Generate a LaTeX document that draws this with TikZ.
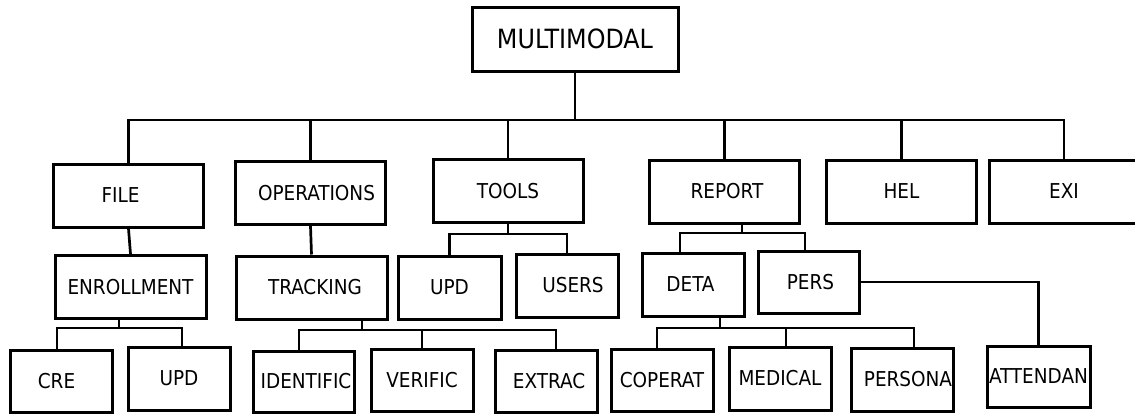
\documentclass[tikz,border=0pt]{standalone}
\usepackage{fontspec}
\setmainfont{DejaVu Sans Condensed}
\begin{document}
\begin{tikzpicture}[x=1pt,y=-1pt,
  box/.style={draw, line width=3pt, inner sep=0pt, font=\fontsize{20.5}{23}\selectfont},
  wide/.style={box, minimum width=150pt, minimum height=63pt},
  narrow/.style={box, minimum width=102pt, minimum height=62pt},
  link/.style={line width=2.7pt}]
\useasboundingbox (0,0) rectangle (1135,413);
\clip (0,0) rectangle (1135,413);
% root
\node[box, minimum width=206pt, minimum height=64pt, font=\fontsize{26.5}{30}\selectfont] (root) at (575,39) {MULTIMODAL};
% level 1
\node[wide] (file)   at (128.5,195.5) {\hspace*{-16pt}FILE};
\node[wide] (ops)    at (310.5,193)   {\hspace*{12pt}OPERATIONS};
\node[wide] (tools)  at (508,191)     {TOOLS};
\node[wide] (report) at (724.5,191.5) {\hspace*{5pt}REPORT};
\node[wide] (hel)    at (901.5,191.5) {HEL};
\node[wide] (exi)    at (1064,191.5)  {EXI};
% level 2
\node[wide, minimum width=151pt] (enroll) at (130.5,287) {ENROLLMENT};
\node[wide, minimum width=151pt] (track)  at (311.5,287.5) {\hspace*{7pt}TRACKING};
\node[narrow, minimum width=103pt, minimum height=63pt] (upd2) at (449.5,287.5) {UPD};
\node[narrow, minimum height=63pt] (users) at (567,285.5) {\hspace*{12pt}USERS};
\node[narrow, minimum height=63pt] (deta)  at (693,284.5) {\hspace*{-5pt}DETA};
\node[narrow, minimum width=101pt] (pers)  at (808.5,282) {\hspace*{4pt}PERS};
% level 3
\node[narrow, minimum width=103pt, minimum height=61pt] (attend) at (1038.5,376.5) {ATTENDAN};
\node[narrow] (cre)     at (61,381)      {\hspace*{-9pt}CRE};
\node[narrow, minimum height=63pt] (upd1) at (179,378.5) {UPD};
\node[narrow, minimum width=101pt, minimum height=61pt] (ident) at (303.5,381.5) {\hspace*{5pt}IDENTIFIC};
\node[narrow] (verif)   at (422,380)     {VERIFIC};
\node[narrow] (extrac)  at (546,381)     {\hspace*{6pt}EXTRAC};
\node[narrow] (coperat) at (662,380)     {COPERAT};
\node[narrow, minimum height=63pt] (medical) at (780,378.5) {MEDICAL};
\node[narrow, minimum height=63pt] (persona) at (902,379.5) {\hspace*{12pt}PERSONA};
% connectors: root
\coordinate (bus) at (575,120);
\draw[link] (root.south) -- (bus);
\draw[link] (file.north) |- (bus) -| (exi.north);
\foreach \n in {ops,tools,report,hel} \draw[link] (\n.north) -- (\n.north |- bus);
% level 2 connectors
\draw[link] (file.south) -- (enroll.north);
\draw[link] (ops.south) -- (track.north);
\coordinate (tb) at (508,234);
\draw[link] (tools.south) -- (tb);
\draw[link] (upd2.north) |- (tb) -| (users.north);
\coordinate (rs) at (742,233);
\coordinate (rl) at (680,233);
\coordinate (rr) at (805,233);
\draw[link] (rs |- report.south) -- (rs);
\draw[link] (rl |- deta.north) -- (rl) -- (rr) -- (rr |- pers.north);
\draw[link] (pers.east) -| (attend.north);
% level 3 connectors
\coordinate (es) at (119,328);
\coordinate (el) at (57,328);
\coordinate (er) at (182,328);
\draw[link] (es |- enroll.south) -- (es);
\draw[link] (el |- cre.north) -- (el) -- (er) -- (er |- upd1.north);
\coordinate (ts) at (362,330);
\coordinate (tl) at (299,330);
\coordinate (tr) at (556,330);
\draw[link] (ts |- track.south) -- (ts);
\draw[link] (tl |- ident.north) -- (tl) -- (tr) -- (tr |- extrac.north);
\draw[link] (verif.north) -- (verif.north |- tl);
\coordinate (ds) at (720,328);
\coordinate (dl) at (657,328);
\coordinate (dr) at (914,328);
\coordinate (dm) at (786,328);
\draw[link] (ds |- deta.south) -- (ds);
\draw[link] (dl |- coperat.north) -- (dl) -- (dr) -- (dr |- persona.north);
\draw[link] (dm |- medical.north) -- (dm);
\end{tikzpicture}
\end{document}
